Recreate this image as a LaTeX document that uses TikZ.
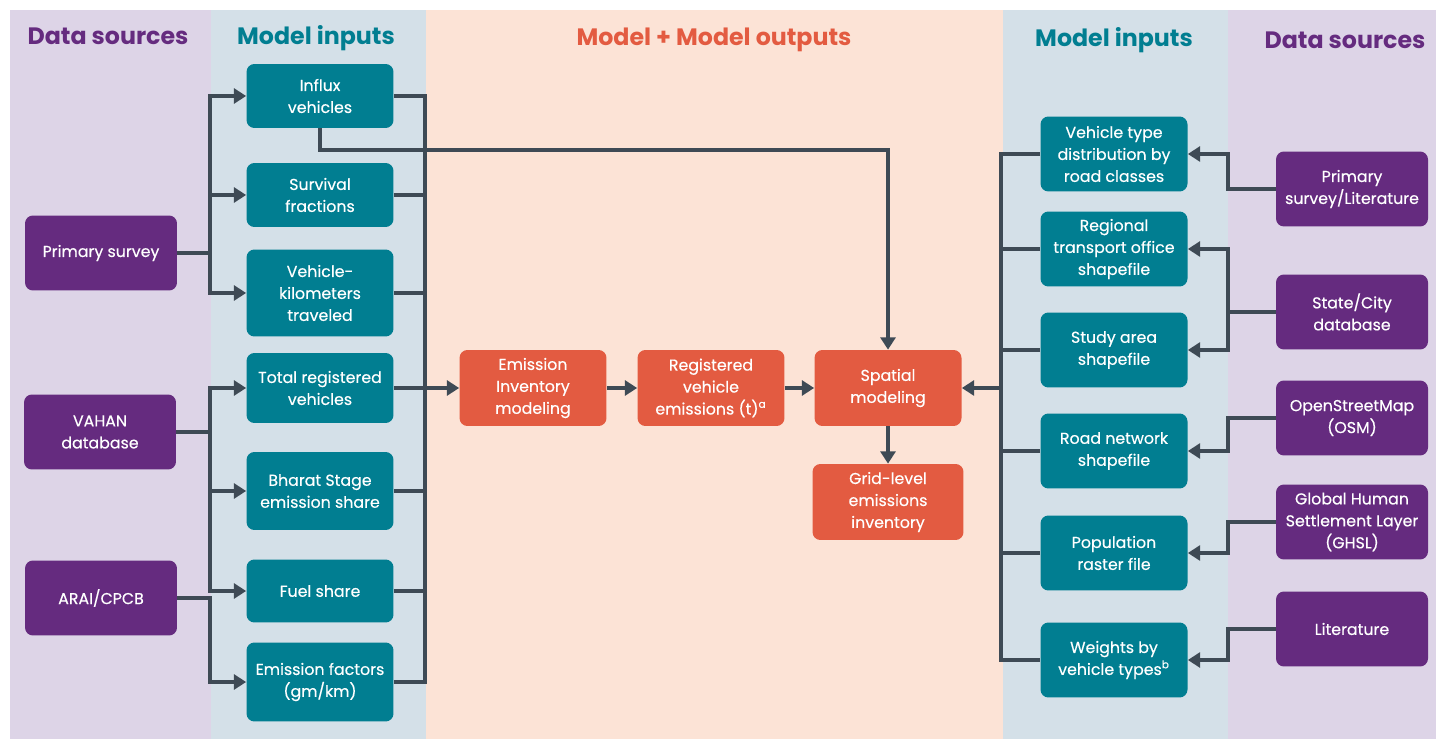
\documentclass[tikz,border=0pt]{standalone}
\usepackage{fontspec}
\setmainfont{Poppins}
\newfontfamily\boxfont{Poppins}[FakeBold=0.35]
\usetikzlibrary{arrows.meta}

\definecolor{srcbg}{HTML}{DDD4E7}
\definecolor{inbg}{HTML}{D4E0E8}
\definecolor{modbg}{HTML}{FCE3D6}
\definecolor{srcpurple}{HTML}{652B7F}
\definecolor{inteal}{HTML}{017E91}
\definecolor{modorange}{HTML}{E35B41}
\definecolor{wire}{HTML}{3E4A55}

\begin{document}
\begin{tikzpicture}[x=0.02cm,y=-0.02cm,
    box/.style={rounded corners=4.5pt, text=white, align=center,
        inner sep=2pt, font=\boxfont\fontsize{9}{12.5}\selectfont},
    src/.style={box, fill=srcpurple, minimum width=3.04cm, minimum height=1.5cm},
    inp/.style={box, fill=inteal, minimum width=2.94cm},
    mod/.style={box, fill=modorange, minimum width=2.94cm, minimum height=1.52cm},
    head/.style={font=\fontsize{13.5}{16}\selectfont\bfseries},
    line/.style={draw=wire, line width=2.2pt},
    arr/.style={line, -{Triangle[length=7pt,width=8.5pt]}}]
    \useasboundingbox (0,0) rectangle (1436,739);

    % column backgrounds
    \fill[srcbg] (10,10) rectangle (211,739);
    \fill[inbg] (211,10) rectangle (426,739);
    \fill[modbg] (426,10) rectangle (1003,739);
    \fill[inbg] (1003,10) rectangle (1228,739);
    \fill[srcbg] (1228,10) rectangle (1436,739);

    \node[head, text=srcpurple] (h1) at (108,36) {Data sources};
    \node[head, text=inteal] (h2) at (316,38) {Model inputs};
    \node[head, text=modorange] (h3) at (714,40) {Model + Model outputs};
    \node[head, text=inteal] (h4) at (1114,40) {Model inputs};
    \node[head, text=srcpurple] (h5) at (1345,40) {Data sources};

    % left data sources
    \node[src] (ps) at (101,253) {Primary survey};
    \node[src] (vahan) at (100,432) {VAHAN\\database};
    \node[src] (arai) at (101,598) {ARAI/CPCB};

    % left model inputs
    \node[inp, minimum height=1.28cm] (influx) at (320,96) {Influx\\vehicles};
    \node[inp, minimum height=1.28cm] (surv) at (320,195) {Survival\\fractions};
    \node[inp, minimum height=1.74cm] (vkt) at (320,293) {Vehicle-\\kilometers\\traveled};
    \node[inp, minimum height=1.4cm] (trv) at (320,388) {Total registered\\vehicles};
    \node[inp, minimum height=1.56cm] (bs) at (320,491) {Bharat Stage\\emission share};
    \node[inp, minimum height=1.26cm] (fuel) at (320,591) {Fuel share};
    \node[inp, minimum height=1.58cm] (ef) at (320,682) {Emission factors\\(gm/km)};

    % model + outputs
    \node[mod] (eim) at (533,388) {Emission\\Inventory\\modeling};
    \node[mod] (rve) at (711,388) {Registered\\vehicle\\emissions (t)\textsuperscript{a}};
    \node[mod] (sm) at (888,388) {Spatial\\modeling};
    \node[mod, minimum width=3.02cm] (grid) at (888,502) {Grid-level\\emissions\\inventory};

    % right model inputs
    \node[inp, minimum height=1.5cm] (vt) at (1114,154) {Vehicle type\\distribution by\\road classes};
    \node[inp, minimum height=1.5cm] (rto) at (1114,249) {Regional\\transport office\\shapefile};
    \node[inp, minimum height=1.5cm] (sa) at (1114,350) {Study area\\shapefile};
    \node[inp, minimum height=1.5cm] (rn) at (1114,451) {Road network\\shapefile};
    \node[inp, minimum height=1.5cm] (pop) at (1114,553) {Population\\raster file};
    \node[inp, minimum height=1.5cm] (wv) at (1114,660) {Weights by\\vehicle types\textsuperscript{b}};

    % right data sources
    \node[src] (psl) at (1352,189) {Primary\\survey/Literature};
    \node[src] (scd) at (1352,312) {State/City\\database};
    \node[src] (osm) at (1352,418) {OpenStreetMap\\(OSM)};
    \node[src] (ghsl) at (1352,522) {Global Human\\Settlement Layer\\(GHSL)};
    \node[src] (lit) at (1352,629) {Literature};

    % bus lines
    \coordinate (lbus) at (210,0);
    \coordinate (mbus) at (425,0);
    \coordinate (rbus) at (1001,0);
    \coordinate (dbus) at (1228,0);
    \coordinate (ity) at (0,150);

    % sources to left inputs
    \foreach \n in {influx,surv,vkt}
        \draw[arr] (ps.east) -- (ps.east -| lbus) |- (\n.west);
    \foreach \n in {trv,bs,fuel}
        \draw[arr] (vahan.east) -- (vahan.east -| lbus) |- (\n.west);
    \draw[arr] (arai.east) -- (arai.east -| lbus) |- (ef.west);

    % left inputs into the model
    \draw[line] (influx.east) -| (ef.east -| mbus) -- (ef.east);
    \foreach \n in {surv,vkt,trv,bs,fuel}
        \draw[line] (\n.east) -- (\n.east -| mbus);
    \draw[arr] (eim.west -| mbus) -- (eim.west);
    \draw[arr] (influx.south) |- (ity -| sm.north) -- (sm.north);

    \draw[arr] (eim) -- (rve);
    \draw[arr] (rve) -- (sm);
    \draw[arr] (sm) -- (grid);

    % right inputs into spatial modeling
    \draw[line] (vt.west) -| (wv.west -| rbus) -- (wv.west);
    \foreach \n in {rto,sa,rn,pop}
        \draw[line] (\n.west) -- (\n.west -| rbus);
    \draw[arr] (sm.east -| rbus) -- (sm.east);

    % sources to right inputs
    \draw[arr] (psl.west) -- (psl.west -| dbus) |- (vt.east);
    \draw[arr] (scd.west) -- (scd.west -| dbus) |- (rto.east);
    \draw[arr] (scd.west) -- (scd.west -| dbus) |- (sa.east);
    \draw[arr] (osm.west) -- (osm.west -| dbus) |- (rn.east);
    \draw[arr] (ghsl.west) -- (ghsl.west -| dbus) |- (pop.east);
    \draw[arr] (lit.west) -- (lit.west -| dbus) |- (wv.east);
\end{tikzpicture}
\end{document}
